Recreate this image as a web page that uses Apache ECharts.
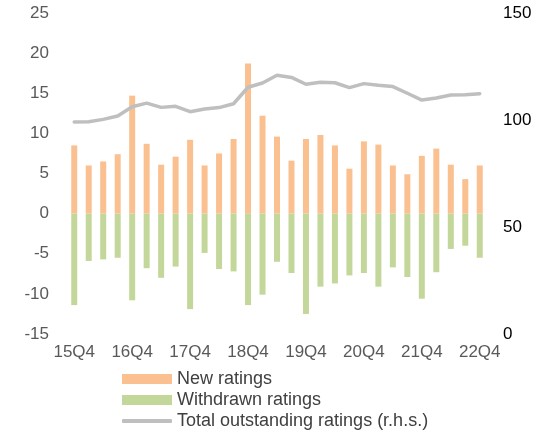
<!DOCTYPE html>
<html>
<head>
<meta charset="utf-8">
<script src="https://cdn.jsdelivr.net/npm/echarts@6/dist/echarts.min.js"></script>
<style>
  html, body { margin: 0; padding: 0; background: #fff; }
  #chart { width: 539px; height: 432px; }
</style>
</head>
<body>
<div id="chart"></div>
<script>
// Quarterly rating activity, 2015Q4 - 2022Q4
const quarters = [
  '15Q4','16Q1','16Q2','16Q3','16Q4','17Q1','17Q2','17Q3','17Q4','18Q1',
  '18Q2','18Q3','18Q4','19Q1','19Q2','19Q3','19Q4','20Q1','20Q2','20Q3',
  '20Q4','21Q1','21Q2','21Q3','21Q4','22Q1','22Q2','22Q3','22Q4'
];
const newRatings = [
  8.5, 6.0, 6.5, 7.4, 14.7, 8.7, 6.1, 7.1, 9.2, 6.0,
  7.5, 9.3, 18.7, 12.2, 9.6, 6.6, 9.3, 9.8, 8.5, 5.6,
  9.0, 8.6, 6.0, 4.9, 7.2, 8.1, 6.1, 4.3, 6.0
];
const withdrawnRatings = [
  -11.4, -5.9, -5.7, -5.5, -10.8, -6.8, -8.0, -6.6, -11.9, -4.9,
  -6.9, -7.2, -11.4, -10.1, -6.0, -7.4, -12.5, -9.1, -8.7, -7.7,
  -7.4, -9.1, -6.7, -7.9, -10.6, -7.3, -4.4, -4.0, -5.5
];
const totalOutstanding = [
  99.1, 99.2, 100.3, 101.9, 106.2, 107.9, 105.9, 106.4, 103.9, 105.1,
  105.8, 107.6, 115.3, 117.3, 120.9, 119.9, 116.7, 117.6, 117.4, 115.1,
  117.0, 116.2, 115.6, 112.5, 109.3, 110.3, 111.7, 111.8, 112.3
];
const seriesNames = ['New ratings', 'Withdrawn ratings', 'Total outstanding ratings (r.h.s.)'];

const FONT = '"Liberation Sans", Arial, sans-serif';
const chart = echarts.init(document.getElementById('chart'), null, { renderer: 'canvas' });

// one legend block per row, stacked under the plot
function legendRow(name, top, iconH, icon) {
  return {
    orient: 'vertical',
    left: 122,
    top: top,
    padding: 0,
    itemWidth: 50,
    itemHeight: iconH,
    icon: icon,
    data: [name],
    textStyle: { fontFamily: FONT, fontSize: 18, color: '#404040' }
  };
}

chart.setOption({
  animation: false,
  textStyle: { fontFamily: FONT },
  grid: { left: 67, right: 52, top: 13, bottom: 98, containLabel: false },
  legend: [
    legendRow(seriesNames[0], 370, 10, 'rect'),
    legendRow(seriesNames[1], 391, 10, 'rect'),
    legendRow(seriesNames[2], 412, 4, 'roundRect')
  ],
  xAxis: {
    type: 'category',
    data: quarters,
    axisLine: { show: false },
    axisTick: { show: false },
    axisLabel: {
      interval: 3,
      margin: 10,
      fontSize: 17,
      color: '#595959',
      fontFamily: FONT
    }
  },
  yAxis: [
    {
      type: 'value',
      min: -15, max: 25, interval: 5,
      splitLine: { show: false },
      axisLine: { show: false },
      axisTick: { show: false },
      axisLabel: { fontSize: 17, color: '#595959', margin: 18, fontFamily: FONT }
    },
    {
      type: 'value',
      min: 0, max: 150, interval: 50,
      position: 'right',
      splitLine: { show: false },
      axisLine: { show: false },
      axisTick: { show: false },
      axisLabel: { fontSize: 17, color: '#000', margin: 16, fontFamily: FONT }
    }
  ],
  series: [
    {
      name: seriesNames[0],
      type: 'bar',
      data: newRatings,
      barWidth: 6,
      barGap: '-100%',
      itemStyle: { color: '#fac090' }
    },
    {
      name: seriesNames[1],
      type: 'bar',
      data: withdrawnRatings,
      barWidth: 6,
      barGap: '-100%',
      itemStyle: { color: '#c4d79b' }
    },
    {
      name: seriesNames[2],
      type: 'line',
      yAxisIndex: 1,
      data: totalOutstanding,
      symbol: 'none',
      lineStyle: { color: '#bfbfbf', width: 3.5, cap: 'round' },
      itemStyle: { color: '#bfbfbf' }
    }
  ]
});
</script>
</body>
</html>
